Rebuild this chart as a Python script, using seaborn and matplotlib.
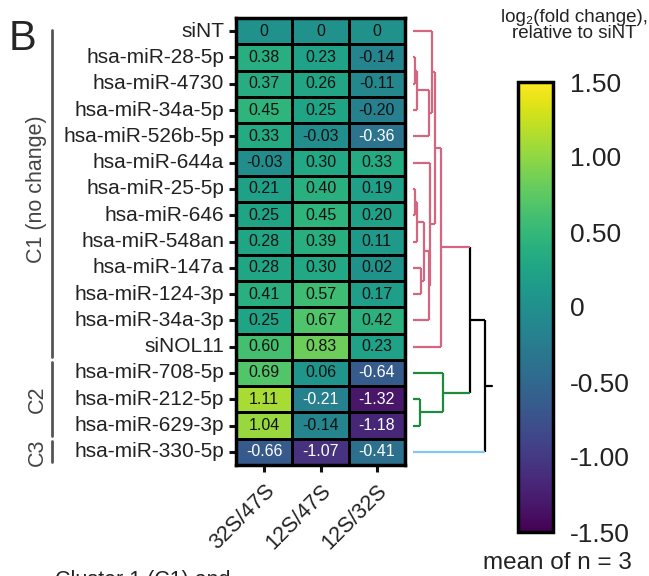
import numpy as np
import pandas as pd
import seaborn as sns
import matplotlib.pyplot as plt
from matplotlib import transforms

# rows top to bottom, as ordered by the clustering
rows = ["siNT", "hsa-miR-28-5p", "hsa-miR-4730", "hsa-miR-34a-5p", "hsa-miR-526b-5p",
        "hsa-miR-644a", "hsa-miR-25-5p", "hsa-miR-646", "hsa-miR-548an", "hsa-miR-147a",
        "hsa-miR-124-3p", "hsa-miR-34a-3p", "siNOL11", "hsa-miR-708-5p", "hsa-miR-212-5p",
        "hsa-miR-629-3p", "hsa-miR-330-5p"]
cols = ["32S/47S", "12S/47S", "12S/32S"]

ratio_32_47 = [0, 0.38, 0.37, 0.45, 0.33, -0.03, 0.21, 0.25, 0.28, 0.28, 0.41, 0.25, 0.60, 0.69, 1.11, 1.04, -0.66]
ratio_12_47 = [0, 0.23, 0.26, 0.25, -0.03, 0.30, 0.40, 0.45, 0.39, 0.30, 0.57, 0.67, 0.83, 0.06, -0.21, -0.14, -1.07]
ratio_12_32 = [0, -0.14, -0.11, -0.20, -0.36, 0.33, 0.19, 0.20, 0.11, 0.02, 0.17, 0.42, 0.23, -0.64, -1.32, -1.18, -0.41]

cluster_names = ["C1 (no change)", "C2", "C3"]
cluster_sizes = [13, 3, 1]
cluster_colors = ["#d4667f", "#1f8a3c", "#86c8ec"]

cbar_ticks = [1.5, 1.0, 0.5, 0, -0.5, -1.0, -1.5]
cbar_labels = ["1.50", "1.00", "0.50", "0", "-0.50", "-1.00", "-1.50"]

# linkage (name, left, right, distance)
merges = [
    ("a1", "hsa-miR-28-5p", "hsa-miR-4730", 1.5),
    ("a2", "a1", "hsa-miR-34a-5p", 4.0),
    ("a3", "a2", "hsa-miR-526b-5p", 16.0),
    ("a4", "siNT", "a3", 19.0),
    ("b1", "hsa-miR-25-5p", "hsa-miR-646", 1.5),
    ("b2", "b1", "hsa-miR-548an", 4.0),
    ("b3", "hsa-miR-147a", "hsa-miR-124-3p", 8.0),
    ("b4", "b2", "b3", 11.0),
    ("b5", "b4", "hsa-miR-34a-3p", 15.5),
    ("b6", "hsa-miR-644a", "b5", 17.0),
    ("b7", "a4", "b6", 21.5),
    ("c1", "b7", "siNOL11", 28.0),
    ("d1", "hsa-miR-212-5p", "hsa-miR-629-3p", 7.0),
    ("c2", "hsa-miR-708-5p", "d1", 30.0),
    ("e1", "c1", "c2", 57.0),
    ("root", "e1", "hsa-miR-330-5p", 72.0),
]

sns.set_style("white")
plt.rcParams["font.family"] = ["Liberation Sans", "DejaVu Sans"]
plt.rcParams["axes.unicode_minus"] = False

W, H = 649, 576
fig = plt.figure(figsize=(W / 100, H / 100), dpi=100)


def box(x0, y0, x1, y1):
    return [x0 / W, 1 - y1 / H, (x1 - x0) / W, (y1 - y0) / H]


ax = fig.add_axes(box(236, 18, 405, 465))
cax = fig.add_axes(box(518, 82, 553, 532))
dax = fig.add_axes(box(405, 18, 500, 465))

df = pd.DataFrame({cols[0]: ratio_32_47, cols[1]: ratio_12_47, cols[2]: ratio_12_32}, index=rows)

sns.heatmap(df, ax=ax, cmap="viridis", vmin=-1.5, vmax=1.5, linewidths=1,
            linecolor="black", cbar_ax=cax)

for i, r in enumerate(rows):
    for j, c in enumerate(cols):
        v = df.loc[r, c]
        txt = "0" if v == 0 else f"{v:.2f}"
        ax.text(j + 0.5, i + 0.5, txt, ha="center", va="center", fontsize=11.5,
                color="white" if v <= -0.21 else "#111111")

ax.set_yticks(np.arange(len(rows)) + 0.5)
ax.set_yticklabels(rows, rotation=0, fontsize=15, color="#222222")
ax.set_xticks(np.arange(len(cols)) + 0.5)
ax.set_xticklabels(cols, rotation=45, ha="right", rotation_mode="anchor", fontsize=15.5, color="#222222")
ax.tick_params(axis="both", length=5, width=2.2, color="#111111", left=True, bottom=True)
ax.tick_params(axis="x", pad=6)
ax.set_xlabel("")
ax.set_ylabel("")
for s in ax.spines.values():
    s.set_visible(True)
    s.set_linewidth(2.5)
    s.set_color("black")

# colorbar
cb = ax.collections[0].colorbar
cb.set_ticks(cbar_ticks)
cb.set_ticklabels(cbar_labels)
cb.outline.set_linewidth(2.5)
cb.outline.set_edgecolor("black")
cax.tick_params(direction="in", left=True, right=True, length=5, width=2,
                labelsize=19, pad=12, colors="#111111")
for lab in cax.get_yticklabels():
    lab.set_color("#222222")

# dendrogram
leaf_cluster = {}
k = 0
for ci, n in enumerate(cluster_sizes):
    for r in rows[k:k + n]:
        leaf_cluster[r] = ci
    k += n

pos = {r: (0.0, i + 0.5) for i, r in enumerate(rows)}
clus = {r: leaf_cluster[r] for r in rows}


def node_color(name):
    c = clus[name]
    return "black" if c is None else cluster_colors[c]


for name, left, right, h in merges:
    clus[name] = clus[left] if clus[left] == clus[right] else None
    (xl, yl), (xr, yr) = pos[left], pos[right]
    dax.plot([h, h], [yl, yr], color=node_color(name), lw=1.6, solid_capstyle="butt")
    dax.plot([xl, h], [yl, yl], color=node_color(left), lw=1.6, solid_capstyle="butt")
    dax.plot([xr, h], [yr, yr], color=node_color(right), lw=1.6, solid_capstyle="butt")
    pos[name] = (h, (yl + yr) / 2)

rx, ry = pos["root"]
dax.plot([rx, rx + 7], [ry, ry], color="black", lw=1.6)
dax.set_xlim(-8, 87)
dax.set_ylim(len(rows), 0)
dax.axis("off")

# cluster brackets on the left
trans = transforms.blended_transform_factory(fig.transFigure, ax.transData)
start = 0
for ci, (cname, n) in enumerate(zip(cluster_names, cluster_sizes)):
    top = start + (0.45 if ci == 0 else 0.1)
    bot = start + n - 0.1
    ax.plot([52 / W, 52 / W], [top, bot], transform=trans, color="#555555", lw=2, clip_on=False)
    ax.text(37 / W, start + n / 2, cname, transform=trans, rotation=90, ha="center",
            va="center", fontsize=15.5, color="#444444")
    start += n

fig.text(9 / W, 1 - 19 / H, "B", fontsize=30, va="top", ha="left")
fig.text(574 / W, 1 - 9 / H, "log\u2082(fold change),\nrelative to siNT", ha="center",
         va="top", fontsize=13.5, linespacing=0.95, color="#222222")
fig.text(557 / W, 1 - 563 / H, "mean of n = 3", ha="center", va="center", fontsize=17.5,
         color="#222222")
fig.text(55 / W, 1 - 570 / H, "Cluster 1 (C1) and", ha="left", va="top", fontsize=15.5,
         color="#222222")

fig.savefig("out.png", dpi=100)
